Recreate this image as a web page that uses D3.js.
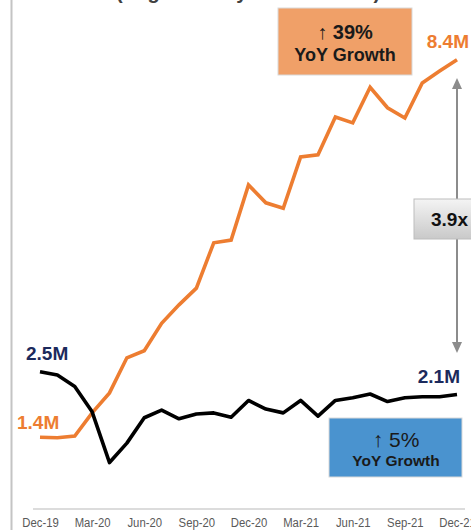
<!DOCTYPE html>
<html><head><meta charset="utf-8">
<script src="https://cdn.jsdelivr.net/npm/d3@7"></script>
<style>
html,body{margin:0;padding:0;background:#fff;overflow:hidden}
svg{display:block;font-family:"Liberation Sans",Arial,sans-serif}
</style></head>
<body>
<svg id="c" width="471" height="530"></svg>
<script>
// ---- data ----
const months = ["Dec-19","Jan-20","Feb-20","Mar-20","Apr-20","May-20","Jun-20","Jul-20","Aug-20","Sep-20","Oct-20","Nov-20","Dec-20","Jan-21","Feb-21","Mar-21","Apr-21","May-21","Jun-21","Jul-21","Aug-21","Sep-21","Oct-21","Nov-21","Dec-21"];
const orangeSeries = [1.33,1.32,1.35,1.78,2.15,2.80,2.93,3.44,3.78,4.09,4.93,4.98,6.00,5.67,5.57,6.52,6.56,7.26,7.15,7.81,7.43,7.24,7.89,8.11,8.32];
const blackSeries = [2.54,2.48,2.27,1.80,0.86,1.22,1.69,1.83,1.67,1.76,1.78,1.70,2.01,1.85,1.78,2.01,1.72,2.01,2.06,2.13,1.99,2.06,2.08,2.08,2.12];
const tickLabels = ["Dec-19","Mar-20","Jun-20","Sep-20","Dec-20","Mar-21","Jun-21","Sep-21","Dec-21"];
const title = "(Avg. Monthly Active Users)";

const svg = d3.select("#c");
const x = d3.scalePoint().domain(months).range([40, 457]);
const y = d3.scaleLinear().domain([0, 9]).range([509, 23]);

// left border line
svg.append("line").attr("x1",11.5).attr("x2",11.5).attr("y1",0).attr("y2",530)
  .attr("stroke","#c4c4c4").attr("stroke-width",2);

// clipped title
svg.append("text").attr("x",248).attr("y",-1).attr("text-anchor","middle")
  .attr("font-size",20).attr("font-weight","bold").attr("fill","#404040").text(title);

// x axis
const ax = svg.append("g").attr("transform","translate(0,509)")
  .call(d3.axisBottom(x).tickValues(tickLabels).tickSize(0).tickPadding(0));
ax.select(".domain").attr("d","M33,0H465").attr("stroke","#d0d0d0").attr("stroke-width",1.5);
ax.selectAll("text").attr("y",18).attr("dy",0).attr("transform","scale(0.84,1)")
  .attr("font-family","'Liberation Sans',Arial,sans-serif")
  .attr("font-size",13.5).attr("fill","#595959");

// lines
const line = d3.line().x((d,i)=>x(months[i])).y(d=>y(d));
svg.append("path").datum(orangeSeries).attr("d",line).attr("fill","none")
  .attr("stroke","#ED7D31").attr("stroke-width",3.6).attr("stroke-linejoin","miter");
svg.append("path").datum(blackSeries).attr("d",line).attr("fill","none")
  .attr("stroke","#000").attr("stroke-width",3.6).attr("stroke-linejoin","round");

// value labels
const navy = "#1c2a5c", orange = "#ED7D31";
function lab(t, xx, yy, col, anchor){
  svg.append("text").attr("x",xx).attr("y",yy).attr("text-anchor",anchor||"start")
    .attr("font-size",19).attr("font-weight","bold").attr("fill",col).text(t);
}
lab("2.5M", 26, 360, navy);
lab("1.4M", 17, 429, orange);
lab("2.1M", 460, 383, navy, "end");
lab("8.4M", 469, 48, orange, "end");

// gray double arrow
const ax0 = x(months[months.length-1]);
svg.append("line").attr("x1",ax0).attr("x2",ax0).attr("y1",86).attr("y2",344)
  .attr("stroke","#8c8c8c").attr("stroke-width",2);
svg.append("path").attr("d",`M${ax0},78L${ax0-5},89L${ax0+5},89Z`).attr("fill","#8c8c8c");
svg.append("path").attr("d",`M${ax0},353L${ax0-5},342L${ax0+5},342Z`).attr("fill","#8c8c8c");

// 3.9x box
const defs = svg.append("defs");
const g = defs.append("linearGradient").attr("id","gg").attr("x1",0).attr("x2",0).attr("y1",0).attr("y2",1);
g.append("stop").attr("offset","0%").attr("stop-color","#f4f4f4");
g.append("stop").attr("offset","100%").attr("stop-color","#c9c9c9");
svg.append("rect").attr("x",414).attr("y",199).attr("width",90).attr("height",40)
  .attr("fill","url(#gg)").attr("stroke","#bdbdbd").attr("stroke-width",1);
svg.append("text").attr("x",431).attr("y",226).attr("font-size",19).attr("font-weight","bold")
  .attr("fill","#111").text("3.9x");

// orange growth box
svg.append("rect").attr("x",278).attr("y",8).attr("width",134).attr("height",67)
  .attr("fill","#F0A068").attr("stroke","#d9d9d9").attr("stroke-width",1);
const t1 = svg.append("text").attr("x",345).attr("y",39).attr("text-anchor","middle").attr("fill","#1a1a1a");
t1.append("tspan").attr("font-size",20).text("↑ ");
t1.append("tspan").attr("font-size",20).attr("font-weight","bold").text("39%");
svg.append("text").attr("x",345).attr("y",61).attr("text-anchor","middle").attr("fill","#1a1a1a")
  .attr("font-size",18).attr("font-weight","bold").text("YoY Growth");

// blue growth box
svg.append("rect").attr("x",329).attr("y",418).attr("width",133).attr("height",59)
  .attr("fill","#4A93CF").attr("stroke","#d9d9d9").attr("stroke-width",1);
svg.append("text").attr("x",396).attr("y",447).attr("text-anchor","middle").attr("fill","#1a1a1a")
  .attr("font-size",21).text("↑ 5%");
svg.append("text").attr("x",396).attr("y",466).attr("text-anchor","middle").attr("fill","#1a1a1a")
  .attr("font-size",15.5).attr("font-weight","bold").text("YoY Growth");
</script>
</body></html>
